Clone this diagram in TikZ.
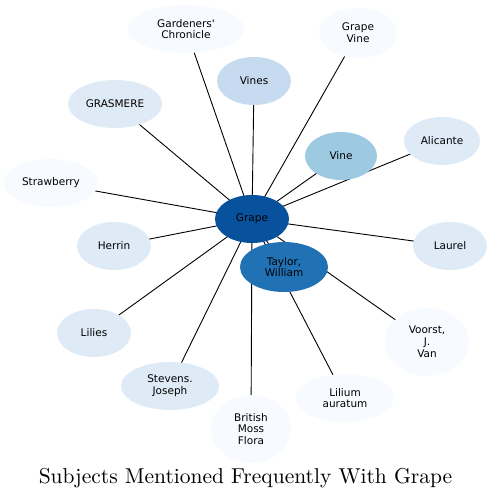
\documentclass[tikz,border=0pt]{standalone}
\usepackage{fontspec}
\newfontfamily\nodefont{DejaVu Sans}
\newfontfamily\titlefont{lmroman10-regular.otf}
\usetikzlibrary{shapes.geometric,backgrounds}
\definecolor{cA}{HTML}{08519C}
\definecolor{cB}{HTML}{2171B5}
\definecolor{cC}{HTML}{9ECAE1}
\definecolor{cD}{HTML}{C6DBEF}
\definecolor{cE}{HTML}{DEEBF7}
\definecolor{cF}{HTML}{F7FBFF}
\tikzset{
  bub/.style={ellipse, inner sep=0pt, align=center, text=black,
    font=\nodefont\fontsize{10.5}{11.8}\selectfont},
  link/.style={draw=black, line width=0.9pt}
}
\begin{document}
\begin{tikzpicture}[x=1pt,y=-1pt]
\useasboundingbox (0,0) rectangle (492,499);
\node[bub, fill=cA, minimum width=74, minimum height=48] (grape) at (252,219) {Grape};
\node[bub, fill=cB, minimum width=88, minimum height=50] (taylor) at (284,267) {Taylor,\\William};
\node[bub, fill=cC, minimum width=72, minimum height=48] (vine) at (341,156) {Vine};
\node[bub, fill=cD, minimum width=74, minimum height=48] (vines) at (254,81) {Vines};
\node[bub, fill=cF, minimum width=116, minimum height=48] (gard) at (186,29) {Gardeners'\\Chronicle};
\node[bub, fill=cF, minimum width=78, minimum height=50] (gvine) at (358,33) {Grape\\Vine};
\node[bub, fill=cE, minimum width=94, minimum height=48] (gras) at (115,104) {GRASMERE};
\node[bub, fill=cE, minimum width=76, minimum height=48] (alic) at (442,141) {Alicante};
\node[bub, fill=cF, minimum width=94, minimum height=48] (straw) at (51,183) {Strawberry};
\node[bub, fill=cE, minimum width=74, minimum height=48] (herrin) at (114,246) {Herrin};
\node[bub, fill=cE, minimum width=74, minimum height=48] (laurel) at (450,246) {Laurel};
\node[bub, fill=cE, minimum width=74, minimum height=48] (lilies) at (94,333) {Lilies};
\node[bub, fill=cF, minimum width=84, minimum height=68] (voorst) at (427,342) {Voorst,\\J.\\Van};
\node[bub, fill=cE, minimum width=98, minimum height=48] (stev) at (170,386) {Stevens.\\Joseph};
\node[bub, fill=cF, minimum width=98, minimum height=48] (lilium) at (345,398) {Lilium\\auratum};
\node[bub, fill=cF, minimum width=80, minimum height=68] (moss) at (251,429) {British\\Moss\\Flora};
\node[font=\titlefont\fontsize{21.5}{25}\selectfont, anchor=base] (title) at (245.5,483.5) {Subjects Mentioned Frequently With Grape};
\begin{scope}[on background layer]
\foreach \n in {taylor,vine,vines,gard,gvine,gras,alic,straw,herrin,laurel,lilies,voorst,stev,lilium,moss}
  \draw[link] (grape.center) -- (\n.center);
\end{scope}
\end{tikzpicture}
\end{document}
